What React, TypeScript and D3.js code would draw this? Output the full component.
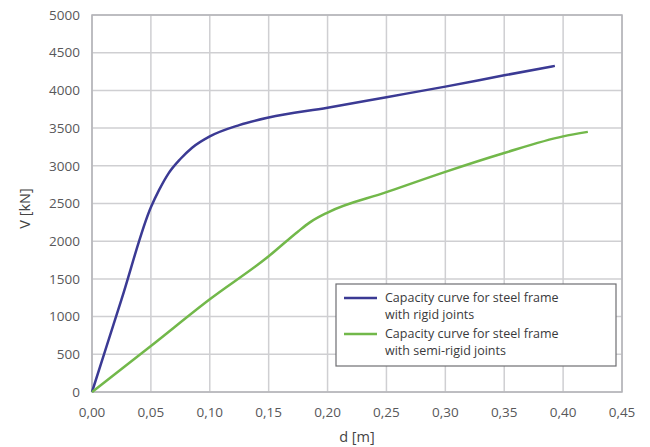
import React, { useEffect, useRef } from 'react';
import * as d3 from 'd3';

const xTicks = [0, 0.05, 0.1, 0.15, 0.2, 0.25, 0.3, 0.35, 0.4, 0.45];
const yTicks = [0, 500, 1000, 1500, 2000, 2500, 3000, 3500, 4000, 4500, 5000];

const rigidD = [0, 0.025, 0.05, 0.057, 0.065, 0.075, 0.085, 0.1, 0.125, 0.15, 0.2, 0.25, 0.3, 0.35, 0.393];
const rigidV = [0, 1225, 2450, 2680, 2900, 3090, 3240, 3390, 3540, 3640, 3770, 3910, 4050, 4200, 4325];

const semiD = [0, 0.05, 0.1, 0.15, 0.175, 0.185, 0.2, 0.25, 0.3, 0.35, 0.4, 0.421];
const semiV = [0, 610, 1230, 1800, 2130, 2250, 2380, 2650, 2920, 3170, 3390, 3450];

const seriesNames = [
  ['Capacity curve for steel frame', 'with rigid joints'],
  ['Capacity curve for steel frame', 'with semi-rigid joints'],
];
const colors = ['#3b3a94', '#72b84a'];

const App = () => {
  const ref = useRef<SVGSVGElement>(null);

  useEffect(() => {
    const width = 650;
    const height = 447;
    const margin = { top: 15, right: 28, bottom: 55, left: 92 };
    const font = "'Open Sans', sans-serif";

    const svg = d3.select(ref.current);
    svg.selectAll('*').remove();
    svg.attr('width', width).attr('height', height);

    const x = d3.scaleLinear().domain([0, 0.45]).range([margin.left, width - margin.right]);
    const y = d3.scaleLinear().domain([0, 5000]).range([height - margin.bottom, margin.top]);

    const grid = svg.append('g');
    grid
      .selectAll('line.v')
      .data(xTicks)
      .join('line')
      .attr('x1', d => x(d))
      .attr('x2', d => x(d))
      .attr('y1', y(0))
      .attr('y2', y(5000))
      .attr('stroke', '#cfcfd2')
      .attr('stroke-width', 1.5);
    grid
      .selectAll('line.h')
      .data(yTicks)
      .join('line')
      .attr('x1', x(0))
      .attr('x2', x(0.45))
      .attr('y1', d => y(d))
      .attr('y2', d => y(d))
      .attr('stroke', '#cfcfd2')
      .attr('stroke-width', 1.5);

    svg
      .append('rect')
      .attr('x', x(0))
      .attr('y', y(5000))
      .attr('width', x(0.45) - x(0))
      .attr('height', y(0) - y(5000))
      .attr('fill', 'none')
      .attr('stroke', '#b4b4b8')
      .attr('stroke-width', 1.5);

    const fmt = (d: number) => d.toFixed(2).replace('.', ',');

    svg
      .append('g')
      .selectAll('text')
      .data(xTicks)
      .join('text')
      .attr('x', d => x(d))
      .attr('y', y(0) + 25)
      .attr('text-anchor', 'middle')
      .attr('font-family', font)
      .attr('font-size', 13.5)
      .attr('fill', '#58585a')
      .text(d => fmt(d));

    svg
      .append('g')
      .selectAll('text')
      .data(yTicks)
      .join('text')
      .attr('x', x(0) - 12)
      .attr('y', d => y(d))
      .attr('dy', '0.35em')
      .attr('text-anchor', 'end')
      .attr('font-family', font)
      .attr('font-size', 13.5)
      .attr('fill', '#58585a')
      .text(d => d);

    svg
      .append('text')
      .attr('x', (x(0) + x(0.45)) / 2)
      .attr('y', 442)
      .attr('text-anchor', 'middle')
      .attr('font-family', font)
      .attr('font-size', 14.5)
      .attr('fill', '#444')
      .text('d [m]');

    svg
      .append('text')
      .attr('transform', `translate(30,${(y(0) + y(5000)) / 2 + 5}) rotate(-90)`)
      .attr('text-anchor', 'middle')
      .attr('font-family', font)
      .attr('font-size', 14.5)
      .attr('fill', '#444')
      .text('V [kN]');

    const line = d3
      .line<[number, number]>()
      .x(d => x(d[0]))
      .y(d => y(d[1]))
      .curve(d3.curveMonotoneX);

    const series = [
      rigidD.map((d, i) => [d, rigidV[i]] as [number, number]),
      semiD.map((d, i) => [d, semiV[i]] as [number, number]),
    ];

    series.forEach((s, i) => {
      svg
        .append('path')
        .datum(s)
        .attr('d', line)
        .attr('fill', 'none')
        .attr('stroke', colors[i])
        .attr('stroke-width', 2.5)
        .attr('stroke-linejoin', 'round');
    });

    // legend
    const lg = svg.append('g').attr('transform', 'translate(336,284)');
    lg.append('rect')
      .attr('width', 280)
      .attr('height', 82)
      .attr('fill', '#fff')
      .attr('stroke', '#6e6e72')
      .attr('stroke-width', 1.2);
    seriesNames.forEach((names, i) => {
      const top = 14 + i * 36;
      lg.append('line')
        .attr('x1', 8)
        .attr('x2', 41)
        .attr('y1', top)
        .attr('y2', top)
        .attr('stroke', colors[i])
        .attr('stroke-width', 2.5);
      names.forEach((t, j) => {
        lg.append('text')
          .attr('x', 49)
          .attr('y', top + 4 + j * 17)
          .attr('font-family', font)
          .attr('font-size', 12.5)
          .attr('fill', '#3a3a3c')
          .text(t);
      });
    });
  }, []);

  return (
    <div style={{ position: 'absolute', left: 0, top: 0 }}>
      <svg ref={ref}></svg>
    </div>
  );
};

export default App;
